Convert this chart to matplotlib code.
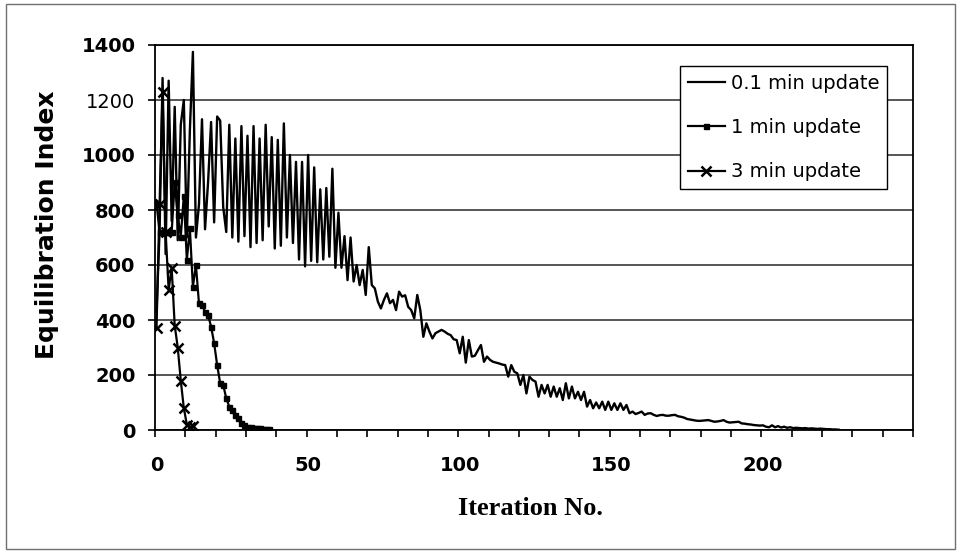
import numpy as np
import matplotlib
matplotlib.use("Agg")
import matplotlib.pyplot as plt
from matplotlib.lines import Line2D
from matplotlib.patches import Rectangle

# ---- data ----
update_01 = [430, 720, 1280, 640, 1270, 760, 1175, 690, 1110, 1200, 700, 1090, 1375,
             700, 820, 1130, 730, 900, 1120, 755, 1140, 1125, 810, 720, 1110, 700, 1060, 685, 1105, 705, 1070,
             665, 1105, 680, 1060, 690, 1110, 740, 1065, 660, 1055, 670, 1115, 700,
             1000, 680, 975, 620, 975, 595, 1000, 615, 955, 610, 875, 620, 880, 630, 950, 590, 790,
             590, 705, 545, 700, 540, 600, 527, 582, 491, 665, 527, 515,
             467, 442, 473, 497, 461, 473, 436, 503, 485, 490, 448, 436, 406, 491, 436,
             339, 388, 358, 333, 352, 358, 364, 358, 350, 345, 330,
             327, 279, 339, 245, 327, 267, 270, 290, 309, 248, 267, 255,
             248, 245, 242, 238, 236, 194, 236, 212, 206, 164, 200, 133, 194, 182, 176,
             121, 164, 133, 164, 121, 158, 121, 152, 109, 170, 115, 158, 115, 139, 109, 139,
             85, 109, 79, 100, 79, 103, 73, 103, 73, 97, 73, 97, 73, 91,
             61, 67, 58, 62, 67, 55, 60, 61, 55, 51, 54, 55, 52, 52, 54, 55, 50,
             48, 45, 40, 38, 36, 34, 33, 34, 35, 36, 33, 30, 31, 33, 36, 30, 27, 28, 29, 30,
             24, 23, 21, 20, 18, 17, 16, 17, 12, 10, 17, 10, 14, 9, 12, 8, 10, 7,
             8, 7, 6, 7, 5, 6, 5, 4, 5, 4, 3, 3, 2, 2, 1]
update_1 = [825, 720, 720, 720, 720, 720, 900, 780, 703, 850, 618, 733, 521, 600, 461, 455,
            430, 418, 376, 316, 236, 170, 164, 115, 85, 73, 55, 43, 25, 18, 12, 10, 8, 7, 6, 5, 4, 2]
update_3 = [370, 820, 1230, 720, 510, 590, 380, 300, 180, 80, 20, 10, 15]
series_labels = ["0.1 min update", "1 min update", "3 min update"]
x_label_values = [0, 50, 100, 150, 200]
y_ticks = [0, 200, 400, 600, 800, 1000, 1200, 1400]

W, H = 961, 554
fig = plt.figure(figsize=(W / 100, H / 100), dpi=100)
fig.patch.set_facecolor("white")

# outer frame
fig.patches.append(Rectangle((6 / W, 1 - 549 / H), (955 - 6) / W, (549 - 4) / H,
                             transform=fig.transFigure, fill=False,
                             edgecolor="#707070", linewidth=1.0))

L, R, T, B = 155, 913, 45, 430
ax = fig.add_axes([L / W, 1 - B / H, (R - L) / W, (B - T) / H])
ax.set_xlim(0, 250)
ax.set_ylim(0, 1400)

off = 0.5
x01 = np.arange(len(update_01)) + off
x1 = np.arange(len(update_1)) + off
x3 = np.arange(len(update_3)) + off

ax.yaxis.grid(True, color="#3a3a3a", linewidth=1.2)
ax.set_axisbelow(True)

ax.plot(x01, update_01, color="black", linewidth=1.7, zorder=3)
ax.plot(x1, update_1, color="black", linewidth=1.6, marker="s", markersize=3.6, zorder=4)
ax.plot(x3, update_3, color="black", linewidth=1.6, marker="x", markersize=7,
        markeredgewidth=1.8, zorder=5)

for s in ax.spines.values():
    s.set_color("black")
    s.set_linewidth(1.3)

SANS = "DejaVu Sans"
ax.set_yticks(y_ticks)
ylabs = ax.set_yticklabels([str(v) for v in y_ticks], fontsize=14,
                           family=SANS, fontweight="bold")
for lab, v in zip(ylabs, y_ticks):
    if v == 1200:
        lab.set_fontweight("normal")
ax.tick_params(axis="y", direction="out", length=5, width=1.2, pad=9)

ax.set_xticks(np.arange(0, 251, 10), minor=True)
ax.set_xticks([v + off for v in x_label_values])
ax.set_xticklabels([str(v) for v in x_label_values], fontsize=14,
                   family=SANS, fontweight="bold")
ax.tick_params(axis="x", which="minor", direction="out", length=5, width=1.2)
ax.tick_params(axis="x", which="major", direction="out", length=0, pad=19)

handles = [Line2D([], [], color="black", linewidth=1.6),
           Line2D([], [], color="black", linewidth=1.6, marker="s", markersize=3.6),
           Line2D([], [], color="black", linewidth=1.6, marker="x", markersize=7, markeredgewidth=1.8)]
leg = ax.legend(handles, series_labels, loc="upper right",
                bbox_to_anchor=((887 - L) / (R - L), (B - 66) / (B - T)),
                borderaxespad=0, fancybox=False, framealpha=1, edgecolor="black",
                prop={"family": SANS, "size": 14},
                handlelength=1.9, handletextpad=0.3, labelspacing=1.3, borderpad=0.4,
                markerfirst=True)
leg.get_frame().set_linewidth(1.0)
leg.set_zorder(10)

fig.text(47 / W, 1 - 225 / H, "Equilibration Index", rotation=90, ha="center", va="center",
         fontsize=18, fontweight="bold", family=SANS)
fig.text(530 / W, 1 - 515 / H, "Iteration No.", ha="center", va="baseline",
         fontsize=19, fontweight="bold", family="Liberation Serif")

fig.savefig("out.png", dpi=100, facecolor="white")
